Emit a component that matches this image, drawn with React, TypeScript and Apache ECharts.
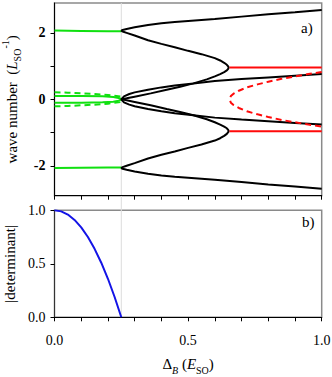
import React, { useEffect, useRef } from 'react';
import * as echarts from 'echarts';

// ---- axis ticks / labels ----
const xTicks = [0, 0.1, 0.2, 0.3, 0.4, 0.5, 0.6, 0.7, 0.8, 0.9, 1.0];
const xLabels = [0, 0.5, 1.0];
const topYTicks = [-2, -1, 0, 1, 2];
const topYLabels = [-2, 0, 2];
const botYTicks = [0, 0.5, 1.0];
const criticalDelta = 0.25;
const topRange = [-2.9, 2.9];
const botRange = [0, 1];

// ---- panel a) wave numbers ----
// green (Delta < 0.25)
const greenOuterUpper = [[0, 2.07], [0.1, 2.06], [0.2, 2.05], [0.25, 2.05]];
const greenOuterLower = [[0, -2.07], [0.1, -2.06], [0.2, -2.05], [0.25, -2.05]];
const greenInnerUpper = [[0, 0.1], [0.1, 0.1], [0.18, 0.09], [0.22, 0.07], [0.24, 0.04], [0.25, 0.01]];
const greenInnerLower = [[0, -0.1], [0.1, -0.1], [0.18, -0.09], [0.22, -0.07], [0.24, -0.04], [0.25, -0.01]];
const greenDashUpper = [[0, 0.21], [0.05, 0.2], [0.1, 0.18], [0.15, 0.16], [0.2, 0.13], [0.25, 0.08]];
const greenDashLower = [[0, -0.21], [0.05, -0.2], [0.1, -0.18], [0.15, -0.16], [0.2, -0.13], [0.25, -0.08]];

// black (Delta > 0.25): outer branch -> nose -> centre
const blackUpperLoop = [
  [1.0, 2.69], [0.9, 2.62], [0.8, 2.56], [0.7, 2.49], [0.6, 2.42], [0.5, 2.36], [0.45, 2.33],
  [0.4, 2.29], [0.35, 2.24], [0.3, 2.17], [0.27, 2.12], [0.255, 2.09], [0.25, 2.07],
  [0.255, 2.04], [0.27, 2.0], [0.3, 1.92], [0.35, 1.78], [0.4, 1.67], [0.45, 1.57], [0.5, 1.46],
  [0.55, 1.36], [0.6, 1.24], [0.62, 1.17], [0.635, 1.1], [0.645, 1.04], [0.65, 0.99], [0.652, 0.96],
  [0.65, 0.92], [0.645, 0.87], [0.635, 0.82], [0.62, 0.76], [0.6, 0.69], [0.57, 0.6], [0.52, 0.48],
  [0.47, 0.38], [0.42, 0.29], [0.36, 0.18], [0.3, 0.08], [0.27, 0.03], [0.25, 0],
];
const blackLowerLoop = [
  [1.0, -2.69], [0.9, -2.62], [0.8, -2.56], [0.7, -2.49], [0.6, -2.42], [0.5, -2.36], [0.45, -2.33],
  [0.4, -2.29], [0.35, -2.24], [0.3, -2.17], [0.27, -2.12], [0.255, -2.09], [0.25, -2.07],
  [0.255, -2.04], [0.27, -2.0], [0.3, -1.92], [0.35, -1.78], [0.4, -1.67], [0.45, -1.57], [0.5, -1.46],
  [0.55, -1.36], [0.6, -1.24], [0.62, -1.17], [0.635, -1.1], [0.645, -1.04], [0.65, -0.99], [0.652, -0.96],
  [0.65, -0.92], [0.645, -0.87], [0.635, -0.82], [0.62, -0.76], [0.6, -0.69], [0.57, -0.6], [0.52, -0.48],
  [0.47, -0.38], [0.42, -0.29], [0.36, -0.18], [0.3, -0.08], [0.27, -0.03], [0.25, 0],
];
const blackCross = [
  [1.0, 0.76], [0.9, 0.71], [0.8, 0.66], [0.7, 0.61], [0.6, 0.55], [0.52, 0.48], [0.45, 0.42],
  [0.4, 0.36], [0.35, 0.29], [0.3, 0.21], [0.28, 0.16], [0.26, 0.09], [0.25, 0],
  [0.26, -0.09], [0.28, -0.16], [0.3, -0.21], [0.35, -0.29], [0.4, -0.36], [0.45, -0.42],
  [0.52, -0.48], [0.6, -0.55], [0.7, -0.61], [0.8, -0.66], [0.9, -0.71], [1.0, -0.76],
];

// red (Delta > 0.65)
const redUpper = [[0.655, 0.96], [1.0, 0.96]];
const redLower = [[0.655, -0.96], [1.0, -0.96]];
const redDashed = [
  [1.0, 0.82], [0.95, 0.76], [0.9, 0.69], [0.85, 0.62], [0.8, 0.53], [0.76, 0.45], [0.72, 0.36],
  [0.69, 0.26], [0.67, 0.17], [0.66, 0.1], [0.655, 0], [0.66, -0.1], [0.67, -0.17], [0.69, -0.26],
  [0.72, -0.36], [0.76, -0.45], [0.8, -0.53], [0.85, -0.62], [0.9, -0.69], [0.95, -0.76], [1.0, -0.82],
];

// ---- panel b) |determinant| ----
const determinant = [
  [0, 1.0], [0.025, 0.99], [0.05, 0.96], [0.075, 0.91], [0.1, 0.84], [0.125, 0.75],
  [0.15, 0.64], [0.175, 0.51], [0.2, 0.36], [0.225, 0.19], [0.25, 0],
];

const FONT = "'Liberation Serif', 'Times New Roman', serif";
const GREEN = '#10e010';
const RED = '#ff0a0a';
const BLUE = '#1414e6';
const BLACK = '#000000';

function line(data: number[][], color: string, panel: number, dashed = false) {
  return {
    type: 'line',
    xAxisIndex: panel,
    yAxisIndex: panel,
    data,
    symbol: 'none',
    showSymbol: false,
    silent: true,
    z: 3,
    lineStyle: { color, width: 2, type: dashed ? [6, 4] : 'solid' },
  };
}

const richBase = {
  t: { fontFamily: FONT, fontSize: 15, color: BLACK, lineHeight: 22, verticalAlign: 'middle' },
  i: { fontFamily: FONT, fontSize: 15, color: BLACK, fontStyle: 'italic', lineHeight: 22, verticalAlign: 'middle' },
  sub: { fontFamily: FONT, fontSize: 10, color: BLACK, lineHeight: 10, verticalAlign: 'bottom' },
  isub: { fontFamily: FONT, fontSize: 10, color: BLACK, fontStyle: 'italic', lineHeight: 10, verticalAlign: 'bottom' },
  sup: { fontFamily: FONT, fontSize: 10, color: BLACK, lineHeight: 10, verticalAlign: 'top' },
};

const panelTexts = [
  { type: 'text', left: 301, top: 20, style: { text: 'a)', fontFamily: FONT, fontSize: 15, fill: BLACK } },
  { type: 'text', left: 302, top: 214, style: { text: 'b)', fontFamily: FONT, fontSize: 15, fill: BLACK } },
];

export default function App() {
  const ref = useRef<HTMLDivElement>(null);
  useEffect(() => {
    const chart = echarts.init(ref.current!, null, { renderer: 'svg' });
    const xAxisCommon = {
      type: 'value',
      min: 0,
      max: 1,
      interval: 0.1,
      splitLine: { show: false },
      axisLine: { show: true, onZero: false, lineStyle: { color: BLACK, width: 1 } },
      axisTick: { show: true, inside: false, length: 4, customValues: xTicks, lineStyle: { color: BLACK } },
    };
    const gridCommon = {
      left: 54.5,
      right: 10.3,
      show: true,
      borderColor: '#8a8a8a',
      borderWidth: 1.5,
      backgroundColor: 'transparent',
      containLabel: false,
      outerBoundsMode: 'none',
    };
    chart.setOption({
      animation: false,
      backgroundColor: '#ffffff',
      textStyle: { fontFamily: FONT },
      grid: [
        { ...gridCommon, top: 3, height: 192.7 },
        { ...gridCommon, top: 210.3, height: 107 },
      ],
      xAxis: [
        { ...xAxisCommon, gridIndex: 0, axisLabel: { show: false } },
        {
          ...xAxisCommon,
          gridIndex: 1,
          axisLabel: {
            show: true,
            customValues: xLabels,
            formatter: (v: number) => v.toFixed(1),
            fontFamily: FONT,
            fontSize: 14,
            color: BLACK,
            margin: 16,
          },
          name: '{t|Δ}{isub|B}{t| (}{i|E}{sub|SO}{t|)}',
          nameLocation: 'middle',
          nameGap: 36,
          nameTextStyle: { fontFamily: FONT, rich: richBase },
        },
      ],
      yAxis: [
        {
          type: 'value',
          gridIndex: 0,
          min: topRange[0],
          max: topRange[1],
          splitLine: { show: false },
          axisLine: { show: true, onZero: false, lineStyle: { color: BLACK, width: 1 } },
          axisTick: { show: true, inside: false, length: 4, customValues: topYTicks, lineStyle: { color: BLACK } },
          axisLabel: {
            show: true,
            customValues: topYLabels,
            formatter: (v: number) => String(Math.round(v)),
            fontFamily: FONT,
            fontWeight: 'bold',
            fontSize: 14,
            color: BLACK,
            margin: 9,
          },
          name: '{t|wave number  (}{i|L}{sub|SO}{sup|-1}{t|)}',
          nameLocation: 'middle',
          nameGap: 30,
          nameTextStyle: { fontFamily: FONT, rich: richBase },
        },
        {
          type: 'value',
          gridIndex: 1,
          min: botRange[0],
          max: botRange[1],
          interval: 0.5,
          splitLine: { show: false },
          axisLine: { show: true, onZero: false, lineStyle: { color: '#333', width: 1 } },
          axisTick: { show: true, inside: false, length: 4, customValues: botYTicks, lineStyle: { color: BLACK } },
          axisLabel: {
            show: true,
            customValues: botYTicks,
            formatter: (v: number) => v.toFixed(1),
            fontFamily: FONT,
            fontSize: 14,
            color: BLACK,
            margin: 9,
          },
          name: '|determinant|',
          nameLocation: 'middle',
          nameGap: 35,
          nameTextStyle: { fontFamily: FONT, fontSize: 15, color: BLACK },
        },
      ],
      graphic: panelTexts,
      series: [
        line(greenOuterUpper, GREEN, 0),
        line(greenOuterLower, GREEN, 0),
        line(greenInnerUpper, GREEN, 0),
        line(greenInnerLower, GREEN, 0),
        line(greenDashUpper, GREEN, 0, true),
        line(greenDashLower, GREEN, 0, true),
        line(blackUpperLoop, BLACK, 0),
        line(blackLowerLoop, BLACK, 0),
        line(blackCross, BLACK, 0),
        line(redUpper, RED, 0),
        line(redLower, RED, 0),
        line(redDashed, RED, 0, true),
        line(determinant, BLUE, 1),
      ],
    });
    // vertical guide at the critical field, spanning both panels (positions from the axes' scales)
    const gx = chart.convertToPixel({ xAxisIndex: 0 }, criticalDelta) as number;
    const gTop = chart.convertToPixel({ yAxisIndex: 0 }, topRange[1]) as number;
    const gBot = chart.convertToPixel({ yAxisIndex: 1 }, botRange[0]) as number;
    if (isFinite(gx) && isFinite(gTop) && isFinite(gBot)) {
      chart.setOption({
        graphic: [
          ...panelTexts,
          {
            type: 'line',
            silent: true,
            z: 0,
            zlevel: 0,
            shape: { x1: gx, y1: gTop, x2: gx, y2: gBot },
            style: { stroke: '#dcdcdc', lineWidth: 1 },
          },
        ],
      });
    }
    return () => chart.dispose();
  }, []);
  return (
    <div
      ref={ref}
      style={{ position: 'absolute', left: 0, top: 0, width: 332, height: 377, background: '#fff' }}
    />
  );
}
